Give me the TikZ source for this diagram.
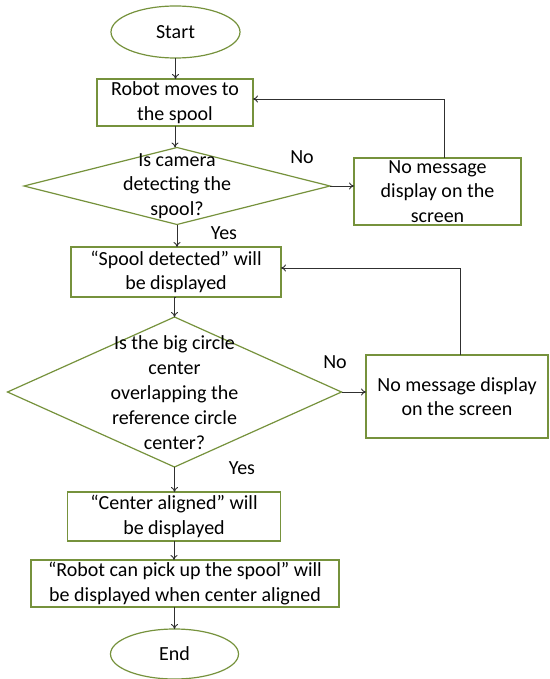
\documentclass[tikz,border=0pt]{standalone}
\usepackage{fontspec}
\setmainfont{Carlito}
\usetikzlibrary{shapes.geometric,arrows.meta,calc}
\definecolor{boxgreen}{HTML}{76923C}
\definecolor{linegray}{HTML}{303030}
\begin{document}
\begin{tikzpicture}[x=1pt,y=-1pt,
  every node/.style={font=\fontsize{20}{24.4}\selectfont, text=black, inner sep=0pt, outer sep=0pt},
  procbox/.style={draw=boxgreen, line width=1.2pt, rectangle, align=center},
  termin/.style={draw=boxgreen, line width=1.2pt, ellipse},
  decis/.style={draw=boxgreen, line width=1.2pt, diamond},
  arr/.style={draw=linegray, line width=0.9pt, -{To[length=5pt,width=7pt]}},
  lbl/.style={}
]
\useasboundingbox (0,0) rectangle (549,679);
\fill[white] (0,0) rectangle (549,679);

% main column
\node[termin, minimum width=129pt, minimum height=52pt] (start) at (175.5,32) {Start};
\node[procbox, minimum width=156pt, minimum height=47pt] (robot) at (175,102.5) {Robot moves to\\the spool};
\node[decis, minimum width=306pt, minimum height=77pt] (d1) at (177,186) {};
\node[align=center] (d1t) at (177,186) {Is camera\\detecting the\\spool?};
\node[procbox, minimum width=210pt, minimum height=50pt] (spool) at (176,272) {“Spool detected” will\\be displayed};
\node[decis, minimum width=334pt, minimum height=150pt] (d2) at (174.5,392) {};
\node[align=center, font=\fontsize{20}{25}\selectfont] (d2t) at (174.5,393) {Is the big circle\\center\\overlapping the\\reference circle\\center?};
\node[procbox, minimum width=213pt, minimum height=49pt] (center) at (174,516.5) {“Center aligned” will\\be displayed};
\node[procbox, minimum width=308pt, minimum height=47pt] (pick) at (185,583.5) {“Robot can pick up the spool” will\\be displayed when center aligned};
\node[termin, minimum width=128pt, minimum height=50pt] (end) at (174.5,654) {End};

% side boxes
\node[procbox, minimum width=167pt, minimum height=67pt] (box1) at (437.5,191.5) {No message\\display on the\\screen};
\node[procbox, minimum width=182pt, minimum height=83pt] (box2) at (457,396.5) {No message display\\on the screen};

% labels
\node[lbl] (no1) at (302,157) {No};
\node[lbl] (yes1) at (224,233) {Yes};
\node[lbl] (no2) at (335,362) {No};
\node[lbl] (yes2) at (242,468) {Yes};

% connectors
\draw[arr] (start.south) -- (start.south |- robot.north);
\draw[arr] (robot.south) -- (robot.south |- d1.north);
\draw[arr] (d1.east) -- (d1.east -| box1.west);
\draw[arr] ([xshift=6.5pt]box1.north) |- ([yshift=3.5pt]robot.east);
\draw[arr] (d1.south) -- (d1.south |- spool.north);
\draw[arr] (spool.south) -- (spool.south -| d2.north) -- (d2.north);
\draw[arr] (d2.east) -- (d2.east -| box2.west);
\draw[arr] ([xshift=3pt]box2.north) |- ([yshift=4pt]spool.east);
\draw[arr] (d2.south) -- (d2.south |- center.north);
\draw[arr] (center.south) -- (center.south |- pick.north);
\draw[arr] (pick.south -| end.north) -- (end.north);
\end{tikzpicture}
\end{document}
